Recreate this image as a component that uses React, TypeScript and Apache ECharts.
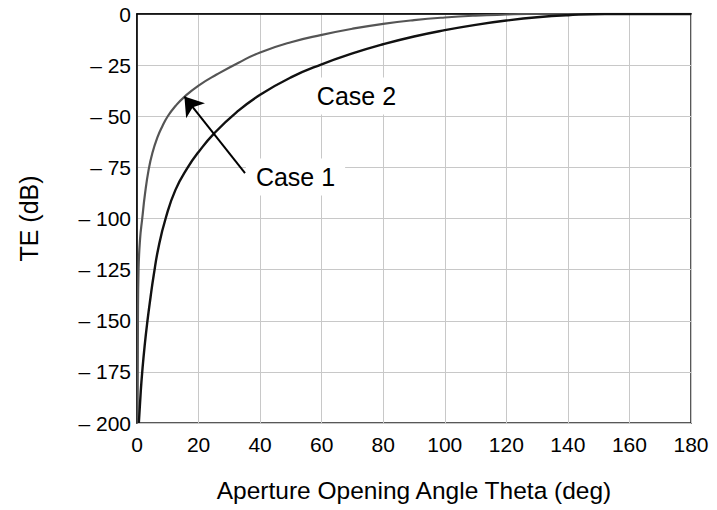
import React, { useEffect, useRef } from "react";
import * as echarts from "echarts";

const case1X = [0.2, 0.3, 0.5, 1.0, 1.7, 2.6, 3.8, 5.0, 6.6, 8.2, 10.0, 12.5, 15.4, 20, 26, 33, 40, 50, 60, 70, 80, 90, 100, 110, 120, 127, 150, 180];
const case1Y = [-200, -150, -125, -110, -100, -88, -76, -68, -60.5, -55, -50, -45, -40.5, -35, -29.5, -23.8, -18.8, -13.8, -10.2, -7.2, -4.8, -3, -1.7, -0.8, -0.25, 0, 0, 0];

const case2X = [0.6, 1.2, 1.7, 2.5, 3.4, 4.4, 5.4, 7.0, 9.3, 12.5, 16.5, 20, 25, 32.4, 40, 50, 60, 70, 80, 90, 100, 110, 120, 130, 140, 152, 180];
const case2Y = [-200, -185, -175, -162, -150, -138.5, -128, -114, -100, -86, -75, -67.5, -58.5, -48, -39.5, -31, -24.6, -19.3, -14.8, -11, -7.9, -5.3, -3.2, -1.6, -0.6, 0, 0];

const xTicks = [0, 20, 40, 60, 80, 100, 120, 140, 160, 180];
const yTicks = [0, -25, -50, -75, -100, -125, -150, -175, -200];

const labelCase1 = { text: "Case 1", x: 51.5, y: -79.7 };
const labelCase2 = { text: "Case 2", x: 71.3, y: -40.1 };
const arrowFrom = [35.1, -77.8];
const arrowTo = [15.4, -40.4];

const FONT = "Liberation Sans, Arial, sans-serif";

export default function App() {
  const ref = useRef<HTMLDivElement>(null);
  useEffect(() => {
    if (!ref.current) return;
    const chart = echarts.init(ref.current, undefined, { renderer: "svg" });
    const pts = (xs: number[], ys: number[]) => xs.map((x, i) => [x, ys[i]]);
    const textLabel = (l: { text: string; x: number; y: number }) => ({
      coord: [l.x, l.y],
      symbol: "rect",
      symbolSize: 1,
      itemStyle: { color: "rgba(0,0,0,0)" },
      label: {
        show: true,
        position: "inside",
        formatter: l.text,
        fontFamily: FONT,
        fontSize: 25,
        color: "#000",
        backgroundColor: "#fff",
        padding: [6, 10, 6, 10],
      },
    });
    chart.setOption({
      animation: false,
      backgroundColor: "#fff",
      grid: {
        left: 137,
        right: 26,
        top: 14,
        bottom: 87,
        containLabel: false,
        show: true,
        borderColor: "#222",
        borderWidth: 1.5,
        backgroundColor: "transparent",
      },
      xAxis: {
        type: "value",
        min: xTicks[0],
        max: xTicks[xTicks.length - 1],
        interval: 20,
        name: "Aperture Opening Angle Theta (deg)",
        nameLocation: "middle",
        nameGap: 55,
        nameTextStyle: { fontFamily: FONT, fontSize: 24.5, color: "#000" },
        axisLine: { show: true, lineStyle: { color: "#000", width: 1.5 } },
        axisTick: { show: false },
        axisLabel: { fontFamily: FONT, fontSize: 21, color: "#000", margin: 11 },
        splitLine: { show: true, lineStyle: { color: "#c8c8c8", width: 1 } },
      },
      yAxis: {
        type: "value",
        min: yTicks[yTicks.length - 1],
        max: yTicks[0],
        interval: 25,
        name: "TE (dB)",
        nameLocation: "middle",
        nameRotate: 90,
        nameGap: 96,
        nameTextStyle: { fontFamily: FONT, fontSize: 25, color: "#000" },
        axisLine: { show: true, lineStyle: { color: "#000", width: 1.5 } },
        axisTick: { show: false },
        axisLabel: {
          fontFamily: FONT,
          fontSize: 21,
          color: "#000",
          margin: 6,
          formatter: (v: number) => (v === 0 ? "0" : "\u2013 " + Math.abs(v)),
        },
        splitLine: { show: true, lineStyle: { color: "#c8c8c8", width: 1 } },
      },
      series: [
        {
          name: "Case 1",
          type: "line",
          data: pts(case1X, case1Y),
          showSymbol: false,
          symbol: "none",
          smooth: 0.5,
          lineStyle: { color: "#555", width: 2.2 },
          z: 3,
          markPoint: { data: [textLabel(labelCase1), textLabel(labelCase2)], z: 5 },
          markLine: {
            silent: true,
            symbol: ["none", "arrow"],
            symbolSize: 18,
            label: { show: false },
            lineStyle: { color: "#000", width: 2, type: "solid" },
            data: [[{ coord: arrowFrom }, { coord: arrowTo }]],
          },
        },
        {
          name: "Case 2",
          type: "line",
          data: pts(case2X, case2Y),
          showSymbol: false,
          symbol: "none",
          smooth: 0.5,
          lineStyle: { color: "#111", width: 2.4 },
          z: 3,
        },
      ],
    });
    return () => chart.dispose();
  }, []);
  return (
    <div
      ref={ref}
      style={{ position: "fixed", left: 0, top: 0, width: 717, height: 510, background: "#fff" }}
    />
  );
}
